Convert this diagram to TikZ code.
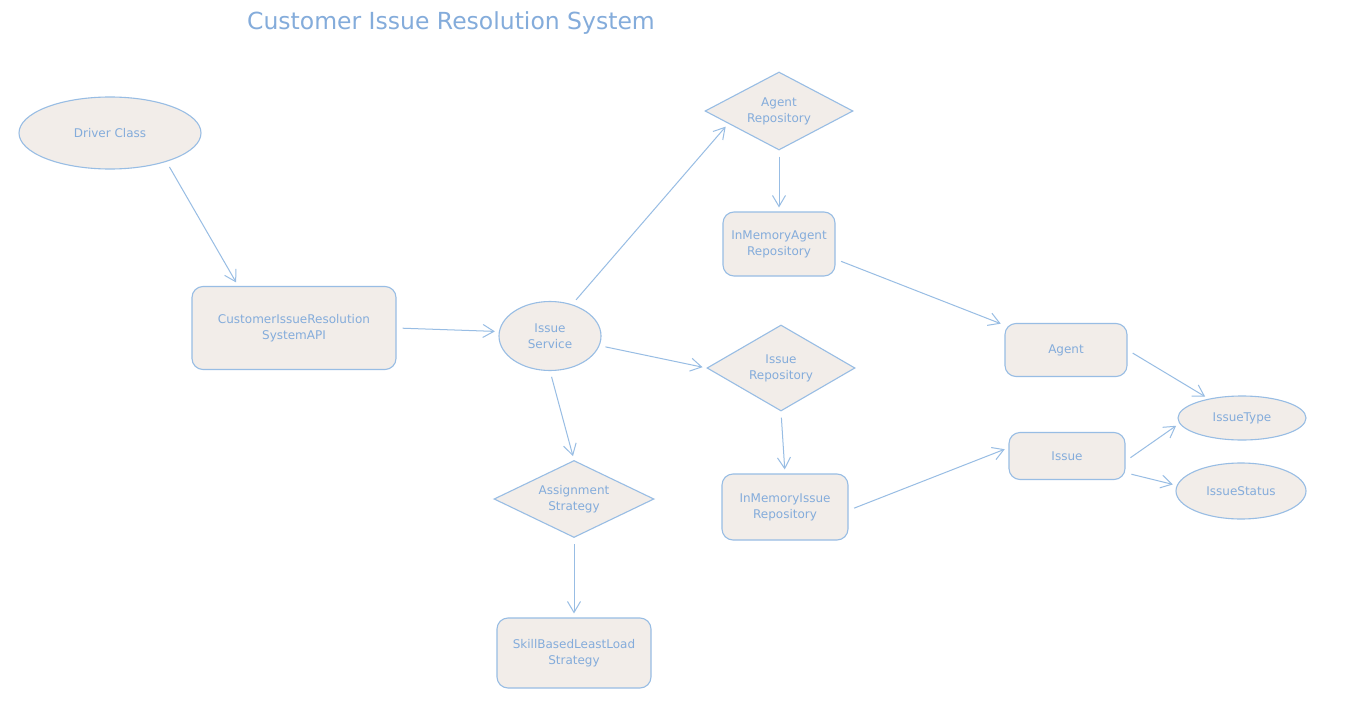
\documentclass[tikz,border=0pt]{standalone}
\usepackage{fontspec}
\setmainfont{DejaVu Sans}
\usetikzlibrary{shapes.geometric,arrows.meta}
\definecolor{edge}{HTML}{98BDE4}
\definecolor{ink}{HTML}{84ACDB}
\definecolor{paper}{HTML}{F2EDE9}
\tikzset{
  base/.style={draw=edge, fill=paper, line width=1.1pt, text=ink, font=\fontsize{12}{16}\selectfont, align=center, inner sep=0pt},
  rbox/.style={base, rectangle, rounded corners=11pt},
  oval/.style={base, ellipse},
  dia/.style={base, diamond, aspect=1.9},
  conn/.style={draw=edge, line width=1pt, -{Straight Barb[length=11pt,width=13pt,line width=1pt]}, shorten >=4pt, shorten <=6pt},
}
\begin{document}
\begin{tikzpicture}[x=1pt,y=-1pt]
\useasboundingbox[fill=white] (0,0) rectangle (1347,701);
\node[text=ink, font=\fontsize{23.5}{27}\selectfont] (title) at (451,23) {Customer Issue Resolution System};

\node[oval, minimum width=182pt, minimum height=72pt] (driver) at (110,133) {Driver Class};
\node[rbox, minimum width=204pt, minimum height=83pt] (api) at (294,328) {CustomerIssueResolution\\SystemAPI};
\node[oval, minimum width=102pt, minimum height=69pt] (svc) at (550,336) {Issue\\Service};
\node[dia, minimum width=148pt, minimum height=78pt] (arepo) at (779,111) {Agent\\Repository};
\node[rbox, minimum width=112pt, minimum height=64pt] (imarepo) at (779,244) {InMemoryAgent\\Repository};
\node[dia, minimum width=148pt, minimum height=86pt] (irepo) at (781,368) {Issue\\Repository};
\node[rbox, minimum width=126pt, minimum height=66pt] (imirepo) at (785,507) {InMemoryIssue\\Repository};
\node[dia, minimum width=160pt, minimum height=77pt] (strat) at (574,499) {Assignment\\Strategy};
\node[rbox, minimum width=154pt, minimum height=70pt] (skill) at (574,653) {SkillBasedLeastLoad\\Strategy};
\node[rbox, minimum width=122pt, minimum height=53pt] (agent) at (1066,350) {Agent};
\node[rbox, minimum width=116pt, minimum height=47pt] (issue) at (1067,456) {Issue};
\node[oval, minimum width=128pt, minimum height=44pt] (itype) at (1242,418) {IssueType};
\node[oval, minimum width=130pt, minimum height=56pt] (istatus) at (1241,491) {IssueStatus};

\draw[conn] (driver.-27) -- (api.143);
\draw[conn] (api.east) -- (svc.175);
\draw[conn] (svc.55) -- (arepo.194);
\draw[conn] (svc.south) -- (strat.north);
\draw[conn] (svc.-11) -- (irepo.west);
\draw[conn] (arepo.south) -- (imarepo.north);
\draw[conn] (imarepo.-15) -- (agent.158);
\draw[conn] (irepo.south) -- (imirepo.north);
\draw[conn] (imirepo.-3) -- (issue.172);
\draw[conn] (strat.south) -- (skill.north);
\draw[conn] (agent.east) -- (itype.150);
\draw[conn] (issue.-5) -- (itype.185);
\draw[conn] (issue.-16) -- (istatus.175);
\end{tikzpicture}
\end{document}
